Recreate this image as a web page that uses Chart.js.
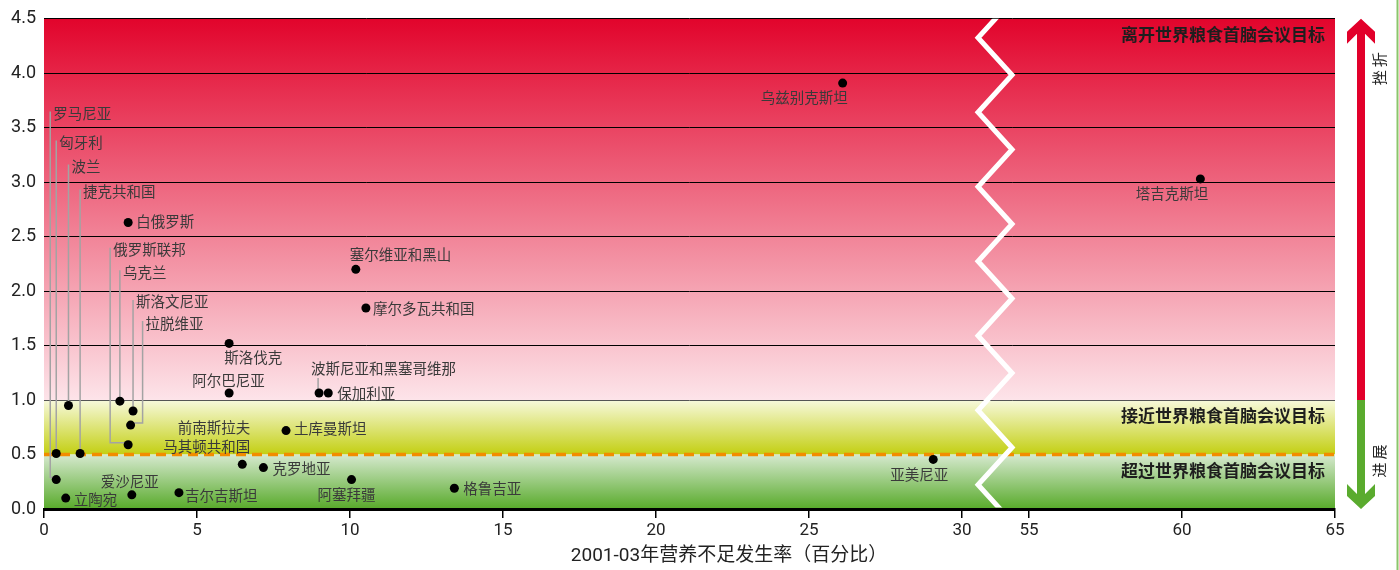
<!DOCTYPE html>
<html lang="zh">
<head>
<meta charset="utf-8">
<script src="https://cdn.jsdelivr.net/npm/chart.js@4.4.1/dist/chart.umd.min.js"></script>
<style>
  html, body { margin: 0; padding: 0; background: #fff; }
  canvas { display: block; }
</style>
</head>
<body>
<canvas id="chart" width="1399" height="570"></canvas>
<script>
// --- DATA ---
const countries = [
  '乌兹别克斯坦', '塔吉克斯坦', '亚美尼亚', '白俄罗斯', '塞尔维亚和黑山', '摩尔多瓦共和国',
  '斯洛伐克', '阿尔巴尼亚', '波斯尼亚和黑塞哥维那', '保加利亚', '土库曼斯坦',
  '前南斯拉夫马其顿共和国', '克罗地亚', '阿塞拜疆', '格鲁吉亚', '吉尔吉斯坦', '爱沙尼亚',
  '立陶宛', '罗马尼亚', '匈牙利', '波兰', '捷克共和国', '俄罗斯联邦', '乌克兰',
  '斯洛文尼亚', '拉脱维亚'
];
// 2001-03 prevalence of undernourishment (%)
const undernourishment = [
  26.1, 60.6, 29.06, 2.75, 10.19, 10.52,
  6.05, 6.05, 8.99, 9.29, 7.91,
  6.48, 7.17, 10.05, 13.41, 4.41, 2.87,
  0.71, 0.4, 0.4, 0.8, 1.18, 2.75, 2.48,
  2.91, 2.83
];
// ratio to the WFS target
const targetRatio = [
  3.91, 3.03, 0.455, 2.63, 2.2, 1.845,
  1.52, 1.065, 1.065, 1.065, 0.72,
  0.41, 0.38, 0.27, 0.19, 0.15, 0.13,
  0.1, 0.27, 0.51, 0.95, 0.51, 0.59, 0.99,
  0.9, 0.77
];
const xTickValues = [0, 5, 10, 15, 20, 25, 30, 55, 60, 65];
const bandLabels = ['离开世界粮食首脑会议目标', '接近世界粮食首脑会议目标', '超过世界粮食首脑会议目标'];
const xTitle = '2001-03年营养不足发生率（百分比）';

// axis break: 30 -> 55
const BREAK_SHIFT = 22.81;
const toAxis = v => (v >= 55 ? v - BREAK_SHIFT : v);
const fromAxis = a => (a > 31.5 ? a + BREAK_SHIFT : a);

// label placement (pixel offsets from the dot)
const labelLayout = {
  '乌兹别克斯坦': { dx: 5, dy: 14, align: 'right' },
  '塔吉克斯坦': { dx: 8, dy: 15, align: 'right' },
  '亚美尼亚': { dx: 15, dy: 15, align: 'right' },
  '白俄罗斯': { dx: 8, dy: -1 },
  '塞尔维亚和黑山': { dx: -6, dy: -15 },
  '摩尔多瓦共和国': { dx: 7, dy: 0 },
  '斯洛伐克': { dx: -5, dy: 14 },
  '阿尔巴尼亚': { dx: -37, dy: -13 },
  '波斯尼亚和黑塞哥维那': { dx: -8, dy: -25, stem: [-1, -15, -4] },
  '保加利亚': { dx: 9, dy: 0 },
  '土库曼斯坦': { dx: 8, dy: -2 },
  '前南斯拉夫马其顿共和国': { dx: 8, dy: -37, align: 'right', lines: ['前南斯拉夫', '马其顿共和国'] },
  '克罗地亚': { dx: 9, dy: 1 },
  '阿塞拜疆': { dx: -34, dy: 15 },
  '格鲁吉亚': { dx: 9, dy: 0 },
  '吉尔吉斯坦': { dx: 6, dy: 3 },
  '爱沙尼亚': { dx: -31, dy: -13 },
  '立陶宛': { dx: 8, dy: 1 }
};
// leader lines: vertical line at dot.x + lx, label at dot.y + ly
const leaderLayout = {
  '罗马尼亚': { lx: -6, ly: -366 },
  '匈牙利': { lx: 0, ly: -311 },
  '波兰': { lx: 0, ly: -239 },
  '捷克共和国': { lx: 0, ly: -262 },
  '俄罗斯联邦': { lx: -18, ly: -195 },
  '乌克兰': { lx: 0, ly: -129 },
  '斯洛文尼亚': { lx: 0, ly: -109 },
  '拉脱维亚': { lx: 12, ly: -102 }
};

const points = countries.map((c, i) => ({ x: toAxis(undernourishment[i]), y: targetRatio[i] }));

const CJK = '"Noto Sans CJK SC", sans-serif';
const NUM = 'Roboto, "Noto Sans CJK SC", sans-serif';

const decorPlugin = {
  id: 'decor',
  beforeDraw(chart) {
    const { ctx, chartArea: a, scales: { y } } = chart;
    const band = (v1, v2, c1, c2) => {
      const top = y.getPixelForValue(v2), bot = y.getPixelForValue(v1);
      const g = ctx.createLinearGradient(0, top, 0, bot);
      g.addColorStop(0, c1);
      g.addColorStop(1, c2);
      ctx.fillStyle = g;
      ctx.fillRect(a.left, top, a.right - a.left, bot - top);
    };
    ctx.save();
    band(1, 4.5, '#e2042c', '#fde4e9');
    band(0.5, 1, '#f7f9dc', '#c3cf12');
    band(0, 0.5, '#d6e9cf', '#58aa2a');
    ctx.restore();
  },
  beforeDatasetsDraw(chart) {
    const { ctx, chartArea: a, scales: { x, y } } = chart;
    ctx.save();
    // target line
    const y05 = y.getPixelForValue(0.5);
    ctx.strokeStyle = '#f28c00';
    ctx.lineWidth = 3.5;
    ctx.setLineDash([10, 6]);
    ctx.beginPath();
    ctx.moveTo(a.left, y05);
    ctx.lineTo(a.right, y05);
    ctx.stroke();
    ctx.setLineDash([]);

    // axis break zigzag
    ctx.save();
    ctx.beginPath();
    ctx.rect(a.left, a.top, a.right - a.left, a.bottom - a.top - 1.5);
    ctx.clip();
    const xc = x.getPixelForValue(31.08);
    const amp = 17, step = 37.25, y0 = a.top + 19;
    ctx.strokeStyle = '#fff';
    ctx.lineWidth = 5;
    ctx.beginPath();
    for (let k = -1; k <= 14; k++) {
      const px = xc + (k % 2 === 0 ? -amp : amp);
      const py = y0 + k * step;
      if (k === -1) ctx.moveTo(px, py); else ctx.lineTo(px, py);
    }
    ctx.stroke();
    ctx.restore();

    // leader lines
    const meta = chart.getDatasetMeta(0);
    ctx.strokeStyle = '#a3a3a3';
    ctx.lineWidth = 1.5;
    countries.forEach((c, i) => {
      const el = meta.data[i];
      const L = leaderLayout[c];
      if (L) {
        const lx = el.x + L.lx;
        ctx.beginPath();
        ctx.moveTo(lx, el.y + L.ly - 2);
        if (L.lx === 0) {
          ctx.lineTo(lx, el.y);
        } else {
          ctx.lineTo(lx, el.y - 2);
          ctx.lineTo(el.x, el.y - 2);
        }
        ctx.stroke();
      }
      const S = labelLayout[c] && labelLayout[c].stem;
      if (S) {
        ctx.beginPath();
        ctx.moveTo(el.x + S[0], el.y + S[1]);
        ctx.lineTo(el.x + S[0], el.y + S[2]);
        ctx.stroke();
      }
    });
    ctx.restore();
  },
  afterDatasetsDraw(chart) {
    const { ctx, chartArea: a, scales: { y } } = chart;
    const meta = chart.getDatasetMeta(0);
    ctx.save();
    // country labels
    ctx.font = '14.5px ' + CJK;
    ctx.fillStyle = '#3a3a3a';
    ctx.textBaseline = 'middle';
    countries.forEach((c, i) => {
      const el = meta.data[i];
      const L = labelLayout[c];
      const D = leaderLayout[c];
      if (L) {
        ctx.textAlign = L.align || 'left';
        const lines = L.lines || [c];
        lines.forEach((t, j) => ctx.fillText(t, el.x + L.dx, el.y + L.dy + j * 19));
      } else if (D) {
        ctx.textAlign = 'left';
        ctx.fillText(c, el.x + D.lx + 3, el.y + D.ly);
      }
    });

    // band labels
    ctx.font = 'bold 17px ' + CJK;
    ctx.fillStyle = '#1e1e1e';
    ctx.textAlign = 'right';
    [4.354, 0.86, 0.35].forEach((v, i) => ctx.fillText(bandLabels[i], a.right - 10, y.getPixelForValue(v)));

    // progress / setback arrow
    const ax = a.right + 26;
    const split = y.getPixelForValue(1);
    ctx.fillStyle = '#e2002a';
    ctx.beginPath();
    ctx.moveTo(ax, a.top);
    ctx.lineTo(ax + 14, a.top + 13);
    ctx.lineTo(ax + 14, a.top + 25);
    ctx.lineTo(ax + 4, a.top + 15);
    ctx.lineTo(ax + 4, split);
    ctx.lineTo(ax - 4, split);
    ctx.lineTo(ax - 4, a.top + 15);
    ctx.lineTo(ax - 14, a.top + 25);
    ctx.lineTo(ax - 14, a.top + 13);
    ctx.closePath();
    ctx.fill();
    ctx.fillStyle = '#5aab2e';
    ctx.beginPath();
    ctx.moveTo(ax, a.bottom);
    ctx.lineTo(ax + 14, a.bottom - 13);
    ctx.lineTo(ax + 14, a.bottom - 25);
    ctx.lineTo(ax + 4, a.bottom - 15);
    ctx.lineTo(ax + 4, split);
    ctx.lineTo(ax - 4, split);
    ctx.lineTo(ax - 4, a.bottom - 15);
    ctx.lineTo(ax - 14, a.bottom - 25);
    ctx.lineTo(ax - 14, a.bottom - 13);
    ctx.closePath();
    ctx.fill();

    ctx.font = '15px ' + CJK;
    ctx.fillStyle = '#222';
    ctx.textAlign = 'center';
    const vchar = (t, cx, cy) => {
      ctx.save();
      ctx.translate(cx, cy);
      ctx.rotate(-Math.PI / 2);
      ctx.fillText(t, 0, 0);
      ctx.restore();
    };
    vchar('挫', ax + 18, a.top + 59);
    vchar('折', ax + 18, a.top + 41);
    vchar('进', ax + 18, a.bottom - 39);
    vchar('展', ax + 18, a.bottom - 57);

    // axis title
    ctx.font = '19px ' + NUM;
    ctx.fillStyle = '#222';
    ctx.fillText(xTitle, 729, 556);

    // thin frame line at right edge
    ctx.fillStyle = '#8cc56b';
    ctx.fillRect(1396.5, 0, 2, chart.height);
    ctx.restore();
  }
};

new Chart(document.getElementById('chart'), {
  type: 'scatter',
  data: {
    datasets: [{
      data: points,
      pointRadius: 4.5,
      pointHoverRadius: 4.5,
      backgroundColor: '#000',
      borderWidth: 0
    }]
  },
  options: {
    responsive: false,
    animation: false,
    devicePixelRatio: 1,
    layout: { padding: { top: 17, right: 64, left: 0, bottom: 0 } },
    plugins: { legend: { display: false }, tooltip: { enabled: false } },
    scales: {
      x: {
        type: 'linear',
        min: 0,
        max: toAxis(65),
        afterBuildTicks: scale => { scale.ticks = xTickValues.map(v => ({ value: toAxis(v) })); },
        afterFit: scale => { scale.height = 61; },
        ticks: {
          autoSkip: false,
          maxRotation: 0,
          padding: 3,
          color: '#222',
          font: { family: NUM, size: 17 },
          callback: v => Math.round(fromAxis(v))
        },
        grid: { drawOnChartArea: false, drawTicks: true, tickLength: 9, color: '#000', lineWidth: 1.5 },
        border: { display: true, color: '#000', width: 3 }
      },
      y: {
        min: 0,
        max: 4.5,
        afterFit: scale => { scale.width = 44; },
        ticks: {
          stepSize: 0.5,
          padding: 8,
          color: '#222',
          font: { family: NUM, size: 18 },
          callback: v => v.toFixed(1)
        },
        grid: {
          drawTicks: false,
          lineWidth: 1,
          color: ctx => {
            const v = ctx.tick && ctx.tick.value;
            if (v === 0 || v === 0.5) return 'rgba(0,0,0,0)';
            if (v === 1) return '#555';
            return '#000';
          }
        },
        border: { display: false }
      }
    }
  },
  plugins: [decorPlugin]
});
</script>
</body>
</html>
